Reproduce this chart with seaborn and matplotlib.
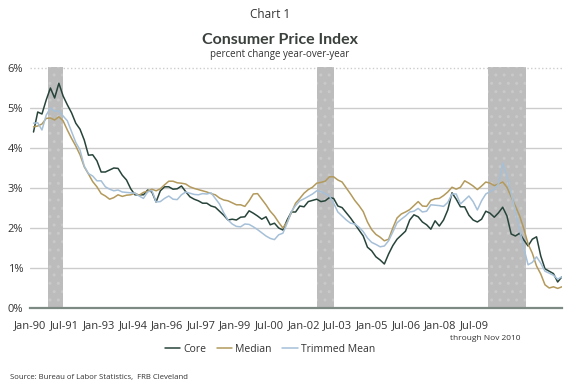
import numpy as np
import pandas as pd
import matplotlib
matplotlib.use("Agg")
import matplotlib.pyplot as plt
import seaborn as sns

# bi-monthly readings (Jan, Mar, May, Jul, Sep, Nov), Jan 1990 .. Nov 2010
dates = pd.date_range("1990-01-01", "2010-11-01", freq="2MS")

core = [
    4.40, 4.90, 4.85, 5.20, 5.50, 5.25,
    5.62, 5.30, 5.08, 4.88, 4.62, 4.47,
    4.20, 3.82, 3.83, 3.68, 3.40, 3.40,
    3.45, 3.50, 3.49, 3.32, 3.20, 2.98,
    2.83, 2.83, 2.83, 2.95, 2.90, 2.65,
    2.93, 3.03, 3.03, 2.97, 2.98, 3.05,
    2.91, 2.78, 2.72, 2.68, 2.62, 2.62,
    2.55, 2.52, 2.42, 2.32, 2.20, 2.22,
    2.20, 2.27, 2.28, 2.43, 2.37, 2.30,
    2.22, 2.28, 2.08, 2.12, 2.00, 1.95,
    2.20, 2.40, 2.40, 2.55, 2.53, 2.66,
    2.69, 2.72, 2.66, 2.68, 2.76, 2.74,
    2.55, 2.51, 2.38, 2.25, 2.10, 1.95,
    1.80, 1.52, 1.43, 1.28, 1.20, 1.10,
    1.35, 1.56, 1.72, 1.82, 1.92, 2.20,
    2.33, 2.28, 2.15, 2.08, 1.97, 2.18,
    2.05, 2.20, 2.45, 2.88, 2.72, 2.53,
    2.53, 2.32, 2.20, 2.15, 2.22, 2.42,
    2.37, 2.27, 2.38, 2.52, 2.30, 1.85,
    1.80, 1.87, 1.70, 1.55, 1.72, 1.78,
    1.30, 0.98, 0.92, 0.86, 0.65, 0.78,
]

median = [
    4.53, 4.55, 4.60, 4.74, 4.75, 4.70,
    4.78, 4.68, 4.45, 4.24, 4.05, 3.83,
    3.53, 3.35, 3.16, 3.03, 2.86, 2.80,
    2.72, 2.76, 2.83, 2.79, 2.82, 2.83,
    2.87, 2.82, 2.89, 2.92, 2.97, 2.93,
    2.98, 3.08, 3.17, 3.17, 3.13, 3.12,
    3.10, 3.03, 2.99, 2.96, 2.93, 2.90,
    2.86, 2.83, 2.75, 2.70, 2.68, 2.63,
    2.58, 2.58, 2.54, 2.68, 2.85, 2.86,
    2.72, 2.58, 2.42, 2.30, 2.14, 2.00,
    2.15, 2.38, 2.62, 2.74, 2.87, 2.96,
    3.02, 3.12, 3.14, 3.17, 3.28, 3.28,
    3.20, 3.15, 3.00, 2.85, 2.69, 2.56,
    2.41, 2.15, 1.96, 1.84, 1.77, 1.68,
    1.72, 2.00, 2.25, 2.35, 2.40, 2.46,
    2.56, 2.66, 2.55, 2.54, 2.69, 2.73,
    2.74, 2.81, 2.90, 3.02, 2.97, 3.02,
    3.18, 3.12, 3.05, 2.96, 3.05, 3.15,
    3.12, 3.06, 3.10, 3.15, 3.02, 2.78,
    2.55, 2.30, 1.98, 1.60, 1.37, 1.05,
    0.85, 0.58, 0.50, 0.53, 0.49, 0.53,
]

trimmed = [
    4.62, 4.63, 4.45, 4.82, 5.00, 4.92,
    4.93, 4.80, 4.68, 4.41, 4.14, 3.95,
    3.55, 3.36, 3.30, 3.18, 3.18, 3.03,
    2.97, 2.93, 2.95, 2.90, 2.89, 2.88,
    2.87, 2.80, 2.74, 2.90, 2.94, 2.65,
    2.66, 2.74, 2.80, 2.72, 2.71, 2.83,
    2.90, 2.87, 2.84, 2.83, 2.86, 2.85,
    2.88, 2.74, 2.60, 2.38, 2.20, 2.10,
    2.04, 2.03, 2.10, 2.09, 2.03, 1.96,
    1.88, 1.80, 1.74, 1.71, 1.83, 1.87,
    2.12, 2.41, 2.56, 2.68, 2.73, 2.79,
    2.85, 2.93, 2.91, 2.86, 2.80, 2.62,
    2.40, 2.30, 2.20, 2.12, 2.10, 2.02,
    1.91, 1.75, 1.64, 1.59, 1.53, 1.55,
    1.68, 1.90, 2.13, 2.22, 2.30, 2.40,
    2.42, 2.49, 2.40, 2.42, 2.58, 2.57,
    2.56, 2.54, 2.64, 2.85, 2.85, 2.60,
    2.70, 2.80, 2.66, 2.45, 2.68, 2.85,
    2.91, 2.97, 3.10, 3.62, 3.30, 2.86,
    2.42, 1.95, 1.50, 1.08, 1.14, 1.28,
    1.12, 0.92, 0.87, 0.82, 0.72, 0.78,
]

recessions = [("1990-08", "1991-03"), ("2001-03", "2001-11"), ("2007-12", "2009-06")]

tick_labels = ["Jan-90", "Jul-91", "Jan-93", "Jul-94", "Jan-96", "Jul-97", "Jan-99",
               "Jul-00", "Jan-02", "Jul-03", "Jan-05", "Jul-06", "Jan-08", "Jul-09"]

colors = {"Core": "#27443a", "Median": "#b39a5c", "Trimmed Mean": "#a6c0d8"}


def month_index(d):
    d = pd.Timestamp(d)
    return (d.year - 1990) * 12 + d.month - 1


df = pd.DataFrame({"month": [month_index(d) for d in dates],
                   "Core": core, "Median": median, "Trimmed Mean": trimmed})
long = df.melt(id_vars="month", var_name="series", value_name="pct")

sns.set_style("white")
plt.rcParams["font.family"] = ["Open Sans", "DejaVu Sans"]
text_col = "#333333"

fig = plt.figure(figsize=(5.8, 3.86), dpi=100)
ax = fig.add_axes([30 / 580, 78 / 386, 532 / 580, 241.2 / 386])

for start, end in recessions:
    ax.axvspan(month_index(start), month_index(end), facecolor="#bcbcbc",
               edgecolor="#c9c9c9", hatch="..", lw=0, zorder=1)

sns.lineplot(data=long, x="month", y="pct", hue="series", palette=colors,
             lw=1.1, ax=ax, zorder=3)

ax.set_xlim(-1.66, 250.05)
ax.set_ylim(0, 6.03)
ax.set_yticks(range(7))
ax.set_yticklabels([f"{v}%" for v in range(7)])
ax.yaxis.grid(True, color="#cccccc", lw=1)
ax.yaxis.get_gridlines()[-1].set_linestyle(":")
ax.set_axisbelow(True)

ax.set_xticks(-1.42 + 16.16 * np.arange(len(tick_labels)))
ax.set_xticklabels(tick_labels)
ax.tick_params(axis="both", length=0, labelsize=8, colors=text_col)
ax.tick_params(axis="x", pad=9)
ax.tick_params(axis="y", pad=5)
ax.set_xlabel("")
ax.set_ylabel("")

for s in ["top", "right", "left"]:
    ax.spines[s].set_visible(False)
ax.spines["bottom"].set_color("#7d8a83")
ax.spines["bottom"].set_linewidth(1.6)

ax.legend(loc="center", bbox_to_anchor=(270 / 580, 1 - 349 / 386),
          bbox_transform=fig.transFigure, ncol=3, frameon=False, fontsize=7.5,
          handlelength=1.5, handletextpad=0.3, columnspacing=1.0, labelcolor=text_col)

fig.text(270 / 580, 1 - 14 / 386, "Chart 1", ha="center", va="center",
         fontsize=8.5, color=text_col)
fig.text(280 / 580, 1 - 40 / 386, "Consumer Price Index", ha="center", va="center",
         fontsize=11.5, fontweight="bold", color="#3a403c", family=["Lato", "DejaVu Sans"])
fig.text(280 / 580, 1 - 55 / 386, "percent change year-over-year", ha="center",
         va="center", fontsize=7, color=text_col)
fig.text(485 / 580, 1 - 339 / 386, "through Nov 2010", ha="center", va="center",
         fontsize=6, color=text_col)
fig.text(10 / 580, 1 - 377 / 386, "Source: Bureau of Labor Statistics,  FRB Cleveland",
         ha="left", va="center", fontsize=5.6, color=text_col)

fig.savefig("out.png", dpi=100)
